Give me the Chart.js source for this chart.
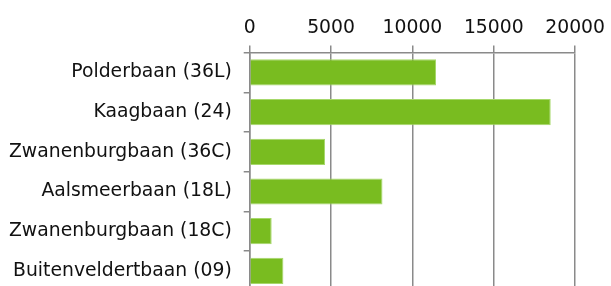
<!DOCTYPE html>
<html>
<head>
<meta charset="utf-8">
<script src="https://cdn.jsdelivr.net/npm/chart.js@4"></script>
<style>
  html, body { margin: 0; padding: 0; background: #fff; overflow: hidden; }
</style>
</head>
<body>
<canvas id="runwayChart" width="611" height="314"></canvas>
<script>
const runways = [
  "Polderbaan (36L)",
  "Kaagbaan (24)",
  "Zwanenburgbaan (36C)",
  "Aalsmeerbaan (18L)",
  "Zwanenburgbaan (18C)",
  "Buitenveldertbaan (09)"
];
const movements = [11450, 18500, 4630, 8160, 1350, 2070];
const xTicks = [0, 5000, 10000, 15000, 20000];

const gridGrey = "#8a8a8a";
const labelFont = { family: "'DejaVu Sans', Verdana, sans-serif", size: 18.8 };

const ctx = document.getElementById("runwayChart").getContext("2d");

const runwayChart = new Chart(ctx, {
  type: "bar",
  data: {
    labels: runways,
    datasets: [{
      data: movements,
      backgroundColor: "#79bc20",
      borderColor: "#a6d86a",
      borderWidth: 1,
      borderSkipped: "start",
      barPercentage: 0.66,
      categoryPercentage: 1
    }]
  },
  options: {
    indexAxis: "y",
    responsive: false,
    animation: false,
    layout: { padding: { left: -3, right: 4, top: 11, bottom: 9 } },
    plugins: {
      legend: { display: false },
      tooltip: { enabled: false }
    },
    scales: {
      x: {
        position: "top",
        min: xTicks[0],
        max: xTicks[xTicks.length - 1],
        afterBuildTicks: axis => { axis.ticks = xTicks.map(v => ({ value: v })); },
        ticks: { color: "#111", font: labelFont, padding: 6, callback: v => String(v) },
        grid: { color: gridGrey, lineWidth: 1.5, tickLength: 7 },
        border: { color: gridGrey, width: 1.5 }
      },
      y: {
        ticks: { color: "#111", font: labelFont, padding: 12 },
        grid: { drawOnChartArea: false, color: gridGrey, lineWidth: 1.5, tickLength: 6 },
        border: { color: gridGrey, width: 1.5 }
      }
    }
  }
});
</script>
</body>
</html>
